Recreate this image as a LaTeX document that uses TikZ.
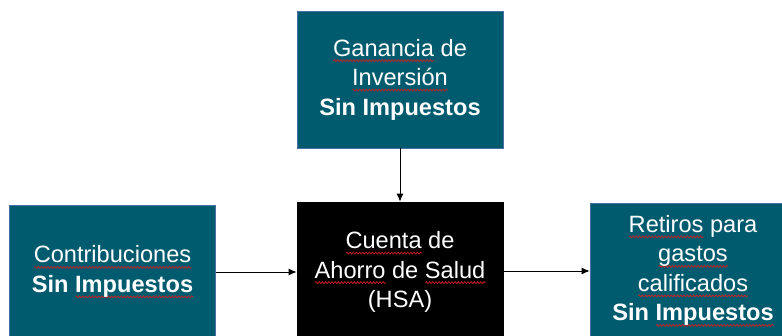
\documentclass[tikz,border=0pt]{standalone}
\usepackage{fontspec}
\setmainfont{Liberation Sans}
\usetikzlibrary{arrows.meta,decorations.pathmorphing}
\definecolor{boxteal}{HTML}{005B6E}
\definecolor{boxedge}{HTML}{4A6FA5}
\definecolor{squig}{HTML}{D02020}
\newlength\sqw
\newsavebox\sqbox
\newcommand\sq[1]{\sbox\sqbox{#1}\setlength\sqw{\wd\sqbox}%
  \rlap{\raisebox{-4.5pt}{\tikz[x=1pt,y=1pt,baseline=0pt]\draw[draw=squig,line width=0.7pt,decorate,decoration={snake,amplitude=1pt,segment length=3.2pt}] (0,0) -- (\sqw,0);}}\usebox\sqbox}
\begin{document}
\begin{tikzpicture}[x=1pt,y=-1pt,
  box/.style={draw=boxedge, line width=0.8pt, fill=boxteal, text=white,
    minimum width=206pt, align=center, inner sep=0pt,
    font=\fontsize{23.6}{29.5}\selectfont},
  hsabox/.style={box, draw=black, fill=black},
  arr/.style={line width=0.9pt, -{Latex[length=8pt,width=7pt]}}]
\useasboundingbox (0,0) rectangle (782,335);
\clip (0,0) rectangle (782,335);
\node[box, minimum height=137pt] (gain) at (400,79.5)
  {\sq{Ganancia} de\\ \sq{Inversión}\\ \textbf{Sin Impuestos}};
\node[box, minimum height=134pt] (contrib) at (112.5,272)
  {\sq{Contribuciones}\\ \textbf{Sin \sq{Impuestos}}};
\node[hsabox, minimum height=140pt] (hsa) at (400,272)
  {\sq{Cuenta} de\\ \sq{Ahorro} de \sq{Salud}\\ (HSA)};
\node[box, minimum height=136pt] (ret) at (693,271)
  {\sq{Retiros} para\\ \sq{gastos}\\ \sq{calificados}\\ \textbf{Sin \sq{Impuestos}}};
\draw[arr] (gain) -- (hsa);
\draw[arr] (contrib) -- (hsa);
\draw[arr] (hsa.east |- ret.center) -- (ret);
\end{tikzpicture}
\end{document}
